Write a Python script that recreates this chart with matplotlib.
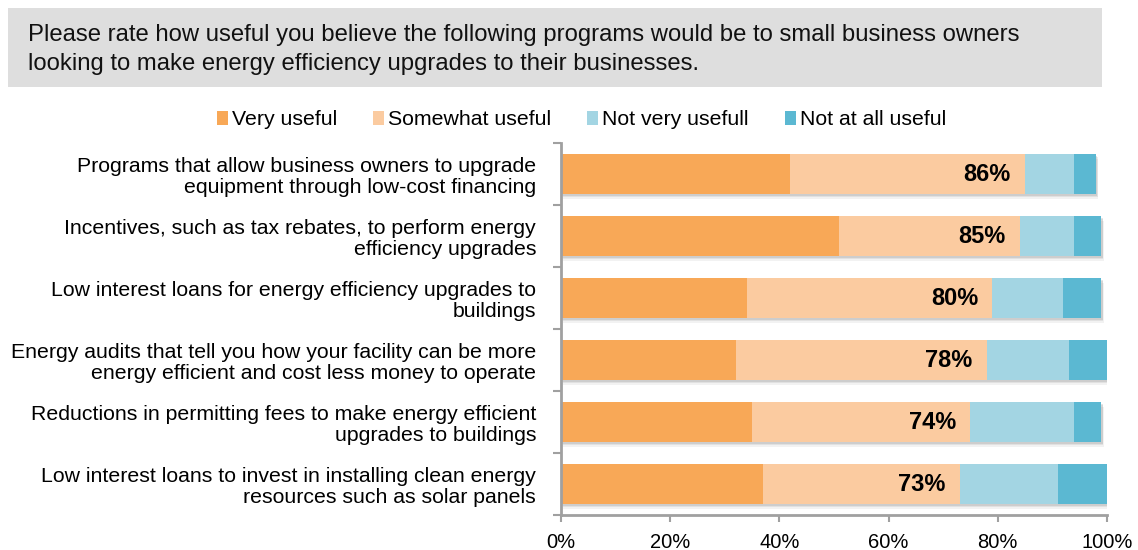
import matplotlib.pyplot as plt
import matplotlib.patheffects as pe
from matplotlib.patches import Rectangle, Patch

plt.rcParams['font.family'] = ['Liberation Sans', 'DejaVu Sans']

# survey data (percent of respondents)
programs = [
    "Programs that allow business owners to upgrade\nequipment through low-cost financing",
    "Incentives, such as tax rebates, to perform energy\nefficiency upgrades",
    "Low interest loans for energy efficiency upgrades to\nbuildings",
    "Energy audits that tell you how your facility can be more\nenergy efficient and cost less money to operate",
    "Reductions in permitting fees to make energy efficient\nupgrades to buildings",
    "Low interest loans to invest in installing clean energy\nresources such as solar panels",
]
very_useful = [42, 51, 34, 32, 35, 37]
somewhat_useful = [43, 33, 45, 46, 40, 36]
not_very_useful = [9, 10, 13, 15, 19, 18]
not_at_all_useful = [4, 5, 7, 7, 5, 9]
top2_labels = ["86%", "85%", "80%", "78%", "74%", "73%"]

series_names = ["Very useful", "Somewhat useful", "Not very usefull", "Not at all useful"]
colors = ["#F8A857", "#FBCBA0", "#A3D5E3", "#5BB8D2"]

fig = plt.figure(figsize=(11.38, 5.5), dpi=100)
ax = fig.add_axes([0.493, 0.0636, 0.4797, 0.6764])

# header box
fig.patches.append(Rectangle((0.007, 0.842), 0.961, 0.143, transform=fig.transFigure,
                             facecolor="#DEDEDE", edgecolor="none", zorder=0))
fig.text(0.025, 0.91,
         "Please rate how useful you believe the following programs would be to small business owners\n"
         "looking to make energy efficiency upgrades to their businesses.",
         fontsize=17.2, va="center", ha="left", linespacing=1.45, color="#111111")

y = list(range(len(programs)))
bar_h = 0.645

left = [0] * len(programs)
for vals, col in zip([very_useful, somewhat_useful, not_very_useful, not_at_all_useful], colors):
    ax.barh(y, vals, left=left, height=bar_h, color=col, edgecolor="none", zorder=2)
    left = [l + v for l, v in zip(left, vals)]

# soft shadow under each stack
for i in y:
    for k, a in [(3.5, 0.10), (2.5, 0.15), (1.5, 0.2)]:
        r = Rectangle((0, i - bar_h / 2), left[i], bar_h, facecolor="white",
                      edgecolor="none", zorder=1)
        r.set_path_effects([pe.SimplePatchShadow(offset=(k * 0.5, -k), shadow_rgbFace="#808080", alpha=a)])
        ax.add_patch(r)

for i in y:
    ax.text(very_useful[i] + somewhat_useful[i] - 2.6, i, top2_labels[i],
            ha="right", va="center", fontsize=17, fontweight="bold", color="black", zorder=3)

ax.set_xlim(0, 100)
ax.set_ylim(len(programs) - 0.5, -0.5)
ax.set_xticks(range(0, 101, 20))
ax.set_xticklabels([f"{t}%" for t in range(0, 101, 20)], fontsize=14.5)
ax.set_yticks(y)
ax.set_yticklabels(programs, fontsize=15.3, linespacing=1.1)
ax.set_yticks([i - 0.5 for i in range(len(programs) + 1)], minor=True)
ax.tick_params(axis="y", which="major", length=0, pad=18)
ax.tick_params(axis="y", which="minor", length=6, width=1.5, color="#A0A0A0")
ax.tick_params(axis="x", length=5, width=1.5, color="#A0A0A0", pad=8)

for s in ["top", "right"]:
    ax.spines[s].set_visible(False)
for s in ["left", "bottom"]:
    ax.spines[s].set_color("#A0A0A0")
    ax.spines[s].set_linewidth(2)

handles = [Patch(facecolor=c, edgecolor="none") for c in colors]
fig.legend(handles, series_names, loc="center", bbox_to_anchor=(0.511, 0.782), ncol=4,
           frameon=False, fontsize=15.3, handlelength=0.5, handleheight=0.7,
           handletextpad=0.2, columnspacing=1.7)

fig.savefig("out.png", dpi=100)
